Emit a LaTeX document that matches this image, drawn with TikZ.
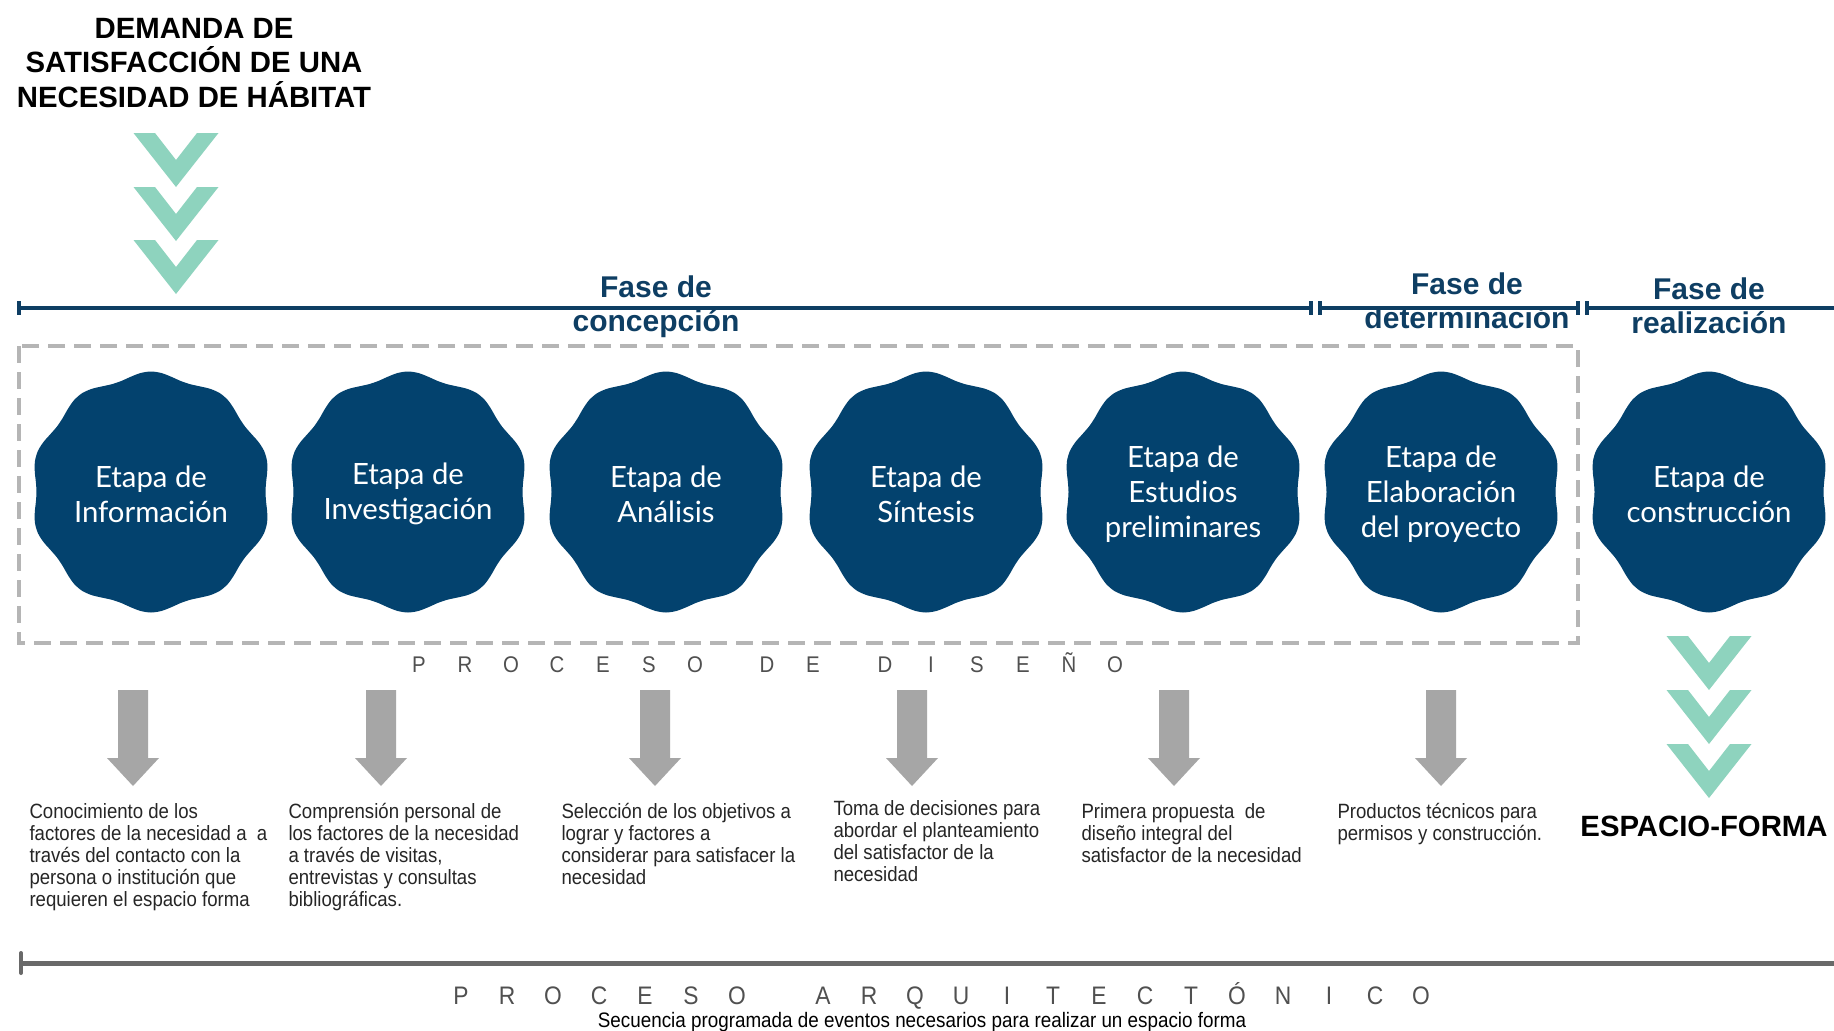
\documentclass[tikz,border=0pt]{standalone}
\usepackage{fontspec}
\setmainfont{Liberation Sans}
\newfontfamily\etapafont{Lato}
\newfontfamily\narrowfont{Liberation Sans}[FakeStretch=0.9]
\usetikzlibrary{positioning}

\definecolor{azulEtapa}{RGB}{3,66,110}
\definecolor{azulFase}{RGB}{14,62,99}
\definecolor{verdeChev}{RGB}{142,211,190}
\definecolor{grisFlecha}{RGB}{166,166,166}
\definecolor{grisCaja}{RGB}{181,181,181}
\definecolor{grisTexto}{RGB}{80,80,80}
\definecolor{grisLinea}{RGB}{105,105,105}

% letras con paso fijo
\newcommand{\espaciado}[2]{\foreach \letra in {#2}{\makebox[#1]{\letra}}}

\tikzset{every picture/.style={line width=0.75pt}}
\tikzset{
  titulo/.style={text=black, align=center, font=\bfseries\fontsize{22}{26}\selectfont},
  etapa/.style={text=white, align=center, font=\etapafont\fontsize{22}{26.25}\selectfont},
  fase/.style={text=azulFase, align=center, font=\bfseries\fontsize{22.5}{25.5}\selectfont},
  desc/.style={anchor=north west, align=left, inner sep=0pt, text=black!85, font=\narrowfont\fontsize{15.5}{16.5}\selectfont},
  espaciada/.style={text=grisTexto, font=\narrowfont\fontsize{17}{19}\selectfont},
  faseline/.style={azulFase, line width=2.5pt},
  % dentro de los pics el eje y sube
  pics/chevron/.style={code={\fill[verdeChev] (-42.5,0) -- (-21,0) -- (0,-27) -- (21,0) -- (42.5,0) -- (0,-54) -- cycle;}},
  pics/flechagris/.style={code={\fill[grisFlecha] (-15,0) -- (15,0) -- (15,-68) -- (26,-68) -- (0,-96) -- (-26,-68) -- (-15,-68) -- cycle;}}
}

\begin{document}
\begin{tikzpicture}[x=0.75pt,y=0.75pt,yscale=-1,xscale=1]
\useasboundingbox (0,0) rectangle (1834,1031);
\fill[white] (0,0) rectangle (1834,1031);

% Titulo y flechas verdes
\node[titulo] (demanda) at (194,63) {DEMANDA DE\\SATISFACCIÓN DE UNA\\NECESIDAD DE HÁBITAT};
\foreach \cy in {133,187,240} \pic at (176,\cy) {chevron};

% Fases
\coordinate (c1a) at (19,308);   \coordinate (c1b) at (1311,308);
\coordinate (c2a) at (1320,308); \coordinate (c2b) at (1578,308);
\coordinate (c3a) at (1587,308); \coordinate (c3b) at (1834,308);
\draw[faseline] (c1a) -- (c1b);
\draw[faseline] (c2a) -- (c2b);
\draw[faseline] (c3a) -- (c3b);
\foreach \tx in {19,1311,1320,1578,1587} \draw[faseline] (\tx,301) -- (\tx,315);

\node[fase] (f1) at (656,306.5) {Fase de\\concepción};
\node[fase] (f2) at (1467,301) {Fase de\\determinación};
\node[fase] (f3) at (1709,306) {Fase de\\realización};

% Caja proceso de diseno
\draw[grisCaja, line width=3pt, dash pattern=on 12.75pt off 6.75pt] (19,346) rectangle (1578,643);

% Etapas
\foreach \x/\t [count=\i] in {151/{Etapa de\\Información}, 408/{Etapa de\\Investigación}, 666/{Etapa de\\Análisis}, 926/{Etapa de\\Síntesis}, 1183/{Etapa de\\Estudios\\preliminares}, 1441/{Etapa de\\Elaboración\\del proyecto}, 1709/{Etapa de\\construcción}} {
  \fill[azulEtapa, shift={(\x,492)}] plot[domain=0:355, samples=72, smooth cycle, variable=\a] (\a:{117.5-3*cos(10*\a)});
  \node[etapa] (e\i) at (\x,494) {\t};
}

\node[espaciada] (diseno) at (767,663) {\espaciado{34.5pt}{P,R,O,C,E,S,O}\hspace{19.5pt}\espaciado{34.5pt}{D,E}\hspace{19.5pt}\espaciado{34.5pt}{D,I,S,E,Ñ,O}};

% Flechas grises
\foreach \ax in {133,381,655,912,1174,1441} \pic at (\ax,690) {flechagris};

\node[desc] (d1) at (29,803) {Conocimiento de los\\factores de la necesidad a\ \ a\\través del contacto con la\\persona o institución que\\requieren el espacio forma};
\node[desc] (d2) at (288,803) {Comprensión personal de\\los factores de la necesidad\\a través de visitas,\\entrevistas y consultas\\bibliográficas.};
\node[desc] (d3) at (561,803) {Selección de los objetivos a\\lograr y factores a\\considerar para satisfacer la\\necesidad};
\node[desc] (d4) at (833,800) {Toma de decisiones para\\abordar el planteamiento\\del satisfactor de la\\necesidad};
\node[desc] (d5) at (1081,803) {Primera propuesta\ \ de\\diseño integral del\\satisfactor de la necesidad};
\node[desc] (d6) at (1337,803) {Productos técnicos para\\permisos y construcción.};

% Espacio-forma
\foreach \cy in {636,690,744} \pic at (1709,\cy) {chevron};
\node[titulo] (espacio) at (1704,826) {ESPACIO-FORMA};

% Proceso arquitectonico
\coordinate (pa) at (21,963); \coordinate (pb) at (1834,963);
\draw[grisLinea, line width=3.75pt] (pa) -- (pb);
\draw[grisLinea, line width=3pt, line cap=round] (21,953) -- (21,973);
\node[espaciada, font=\narrowfont\fontsize{19}{21}\selectfont] (arq) at (941,996) {\espaciado{34.5pt}{P,R,O,C,E,S,O}\hspace{30pt}\espaciado{34.5pt}{A,R,Q,U,I,T,E,C,T,Ó,N,I,C,O}};
\node[font=\narrowfont\fontsize{15.7}{17}\selectfont] (secuencia) at (922,1022) {Secuencia programada de eventos necesarios para realizar un espacio forma};

\end{tikzpicture}
\end{document}
